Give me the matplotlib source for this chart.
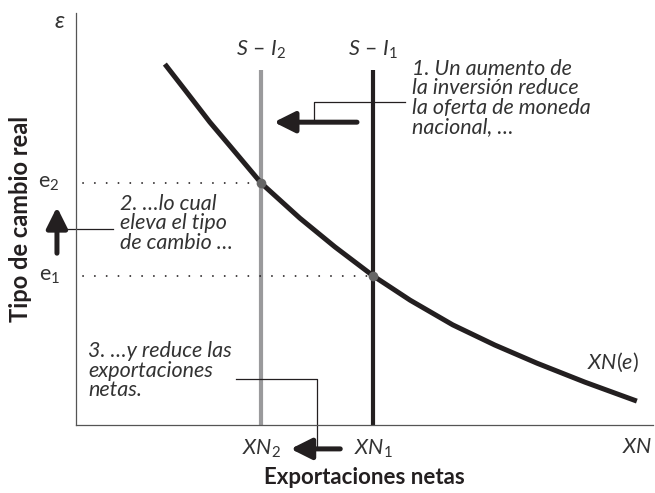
import matplotlib
matplotlib.use("Agg")
import matplotlib.pyplot as plt

plt.rcParams['font.family'] = ['Lato', 'DejaVu Sans']
plt.rcParams['lines.scale_dashes'] = False
plt.rcParams['mathtext.fontset'] = 'custom'
plt.rcParams['mathtext.rm'] = 'Lato'
plt.rcParams['mathtext.it'] = 'Lato:italic'

# ========================
# DATOS (unidades del gráfico, 0-100)
# ========================
curva_x = [15.4, 18.9, 23.2, 26.7, 32.1, 38.8, 44.9, 51.5, 57.9, 65.3, 72.6, 79.9, 88.2, 97.2]
curva_y = [87.6, 81.3, 73.5, 67.7, 58.7, 50.2, 43.2, 36.2, 30.3, 24.3, 19.4, 15.0, 10.4, 5.8]

xn1, xn2 = 51.5, 32.1
e1, e2 = 36.2, 58.7
tope_si = 86.2

texto1 = "1. Un aumento de\nla inversión reduce\nla oferta de moneda\nnacional, …"
texto2 = "2. …lo cual\neleva el tipo\nde cambio …"
texto3 = "3. …y reduce las\nexportaciones\nnetas."

negro = "#231f20"
gris = "#9a9a9c"
txt = "#333333"

fig = plt.figure(figsize=(6.55, 4.93), dpi=100)
ax = fig.add_axes([76/655, 68/493, 577/655, 412/493])
ax.set_xlim(0, 100)
ax.set_ylim(0, 100)
for s in ["top", "right"]:
    ax.spines[s].set_visible(False)
for s in ["left", "bottom"]:
    ax.spines[s].set_color("#555555")
    ax.spines[s].set_linewidth(0.9)
ax.set_xticks([])
ax.set_yticks([])

# S - I
ax.plot([xn2, xn2], [0, tope_si], color=gris, lw=3.0, solid_capstyle="butt")
ax.plot([xn1, xn1], [0, tope_si], color=negro, lw=3.0, solid_capstyle="butt")

# curva XN(e)
ax.plot(curva_x, curva_y, color=negro, lw=3.6, solid_capstyle="butt", solid_joinstyle="round")

# líneas punteadas
ax.plot([1.2, xn2], [e2, e2], color=negro, lw=1.3, linestyle=(0, (0.1, 8.4)), dash_capstyle="round")
ax.plot([1.2, xn1], [e1, e1], color=negro, lw=1.3, linestyle=(0, (0.1, 8.4)), dash_capstyle="round")

# puntos de equilibrio
ax.plot([xn2, xn1], [e2, e1], "o", color="#666666", ms=7, mec="none", zorder=5)

# flechas gruesas
flecha = dict(arrowstyle="-|>,head_length=0.9,head_width=0.45", lw=3.6, color=negro,
              shrinkA=0, shrinkB=0, mutation_scale=14)
ax.annotate("", xy=(34.3, 73.5), xytext=(48.7, 73.5), arrowprops=flecha, annotation_clip=False)
ax.annotate("", xy=(-3.3, 52.9), xytext=(-3.3, 41.7), arrowprops=flecha, annotation_clip=False)
ax.annotate("", xy=(37.2, -5.8), xytext=(45.8, -5.8), arrowprops=flecha, annotation_clip=False)

# líneas guía
ax.plot([41.2, 41.2, 57.0], [73.5, 78.4, 78.4], color=negro, lw=0.9, clip_on=False)
ax.plot([-3.3, 6.4], [47.6, 47.6], color=negro, lw=0.9, clip_on=False)
ax.plot([27.7, 41.8, 41.8], [11.2, 11.2, -5.8], color=negro, lw=0.9, clip_on=False)

# textos
tam = 15.5
ax.text(58.3, 88.8, texto1, fontsize=tam, style="italic", color=txt, va="top", ha="left", linespacing=0.95)
ax.text(7.6, 56.0, texto2, fontsize=tam, style="italic", color=txt, va="top", ha="left", linespacing=0.95)
ax.text(2.1, 20.3, texto3, fontsize=tam, style="italic", color=txt, va="top", ha="left", linespacing=0.95)

ax.text(xn2, 88.3, r"$S$ – $I_2$", fontsize=tam, color=txt, ha="center", va="bottom")
ax.text(xn1, 88.3, r"$S$ – $I_1$", fontsize=tam, color=txt, ha="center", va="bottom")
ax.text(-2.0, 98.0, "ε", fontsize=17, style="italic", color=txt, ha="right", va="center")
ax.text(-2.8, e2, "e$_2$", fontsize=tam, color=txt, ha="right", va="center")
ax.text(-2.8, e1, "e$_1$", fontsize=tam, color=txt, ha="right", va="center")
ax.text(xn2, -3.0, "$XN_2$", fontsize=tam, color=txt, ha="center", va="top")
ax.text(xn1, -3.0, "$XN_1$", fontsize=tam, color=txt, ha="center", va="top")
ax.text(99.8, -3.0, "$XN$", fontsize=tam, color=txt, ha="right", va="top")
ax.text(97.5, 12.3, "$XN$($e$)", fontsize=tam, color=txt, ha="right", va="bottom")

ax.set_xlabel("Exportaciones netas", fontsize=16, fontweight="bold", color=negro, labelpad=30)
ax.set_ylabel("Tipo de cambio real", fontsize=17, fontweight="bold", color=negro, labelpad=32)

fig.savefig("out.png", dpi=100)
